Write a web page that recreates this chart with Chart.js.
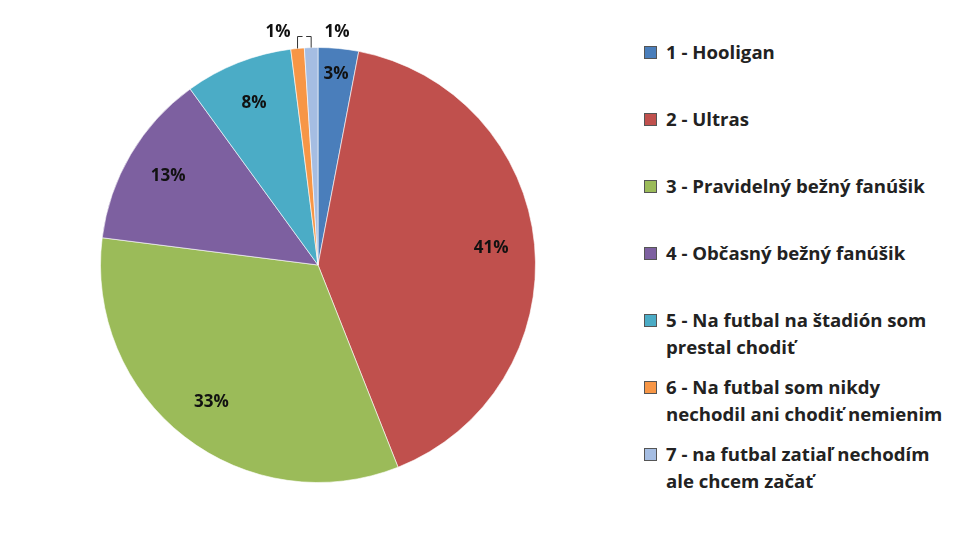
<!DOCTYPE html>
<html><head><meta charset="utf-8">
<script src="https://cdn.jsdelivr.net/npm/chart.js@4/dist/chart.umd.min.js"></script>
<style>
body{margin:0;background:#fff;width:969px;height:533px;position:relative;overflow:hidden;font-family:"Open Sans","Liberation Sans",sans-serif}
#wrap{position:absolute;left:0;top:0;width:636px;height:533px}
#legend{position:absolute;left:644px;top:0;font-weight:bold;font-size:18.6px;color:#222;line-height:27px}
.it{position:absolute;left:0;padding-left:22px;white-space:nowrap}
.sw{position:absolute;left:0;top:8px;width:11px;height:11px;border:1px solid #555}
</style></head><body>
<div id="wrap"><canvas id="c"></canvas></div>
<div id="legend"></div>
<script>
const categories=["1 - Hooligan","2 - Ultras","3 - Pravidelný bežný fanúšik","4 - Občasný bežný fanúšik","5 - Na futbal na štadión som prestal chodiť","6 - Na futbal som nikdy nechodil ani chodiť nemienim","7 - na futbal zatiaľ nechodím ale chcem začať"];
const legendLines=[["1 - Hooligan"],["2 - Ultras"],["3 - Pravidelný bežný fanúšik"],["4 - Občasný bežný fanúšik"],["5 - Na futbal na štadión som","prestal chodiť"],["6 - Na futbal som nikdy","nechodil ani chodiť nemienim"],["7 - na futbal zatiaľ nechodím","ale chcem začať"]];
const values=[3,41,33,13,8,1,1];
const colors=["#4a7ebb","#c0504d","#9bbb59","#7d60a0","#4bacc6","#f79646","#a5bde2"];
const lg=document.getElementById('legend');
legendLines.forEach((l,i)=>{const d=document.createElement('div');d.className='it';d.style.top=(38+i*67)+'px';d.innerHTML='<span class="sw" style="background:'+colors[i]+'"></span>'+l.join('<br>');lg.appendChild(d);});
const labelPlugin={id:'lbl',afterDatasetsDraw(ch){const ctx=ch.ctx;const arcs=ch.getDatasetMeta(0).data;ctx.save();ctx.font='bold 17px "Open Sans", sans-serif';ctx.fillStyle='#111';ctx.textAlign='center';ctx.textBaseline='middle';
arcs.forEach((a,i)=>{const mid=(a.startAngle+a.endAngle)/2;const v=values[i];
if(v<=1){const side=i===5?-1:1;const ex=a.x+Math.cos(mid)*a.outerRadius,ey=a.y+Math.sin(mid)*a.outerRadius;const tx=i===5?a.x-40:a.x+19,ty=a.y-a.outerRadius-15;ctx.strokeStyle='#333';ctx.lineWidth=1;ctx.beginPath();ctx.moveTo(ex,ey);ctx.lineTo(ex,ty+4);ctx.lineTo(ex+side*(-5),ty+4);ctx.stroke();ctx.fillText(v+'%',tx,ty);}
else{const r=a.outerRadius*(i===0?0.88:0.8);ctx.fillText(v+'%',a.x+Math.cos(mid)*r,a.y+Math.sin(mid)*r);}});ctx.restore();}};
new Chart(document.getElementById('c'),{type:'pie',data:{labels:categories,datasets:[{data:values,backgroundColor:colors,borderColor:'rgba(255,255,255,0.6)',borderWidth:1}]},
options:{responsive:true,maintainAspectRatio:false,animation:false,layout:{padding:{top:47,bottom:50}},plugins:{legend:{display:false},tooltip:{enabled:false}}},plugins:[labelPlugin]});
</script></body></html>
